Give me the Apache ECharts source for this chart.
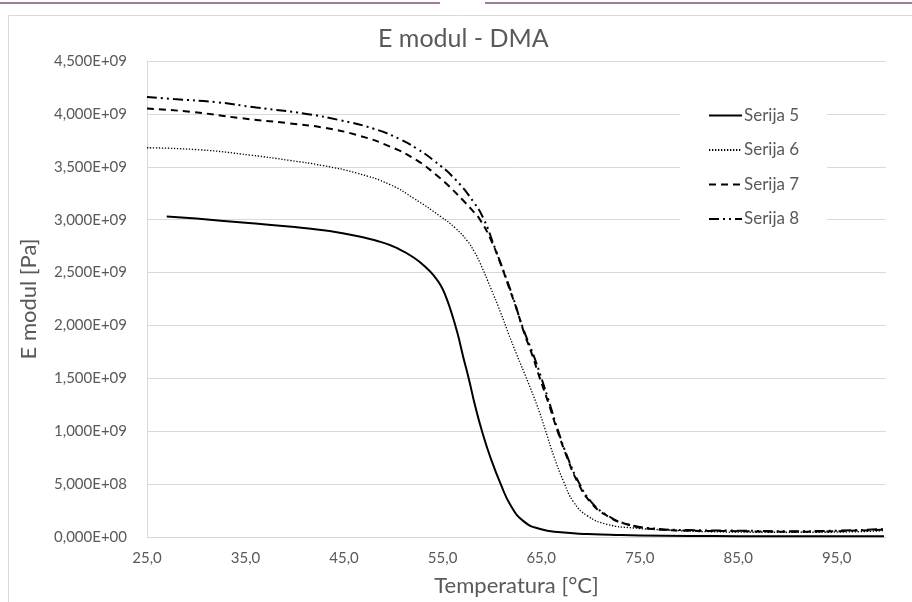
<!DOCTYPE html>
<html>
<head>
<meta charset="utf-8">
<title>E modul - DMA</title>
<script src="https://cdn.jsdelivr.net/npm/echarts@6/dist/echarts.min.js"></script>
<style>
  html, body { margin: 0; padding: 0; background: #ffffff; }
  #chart { width: 912px; height: 602px; }
</style>
</head>
<body>
<div id="chart"></div>
<script>
// Storage modulus E [Pa] versus temperature [°C] for four sample series
const seriesNames = ['Serija 5', 'Serija 6', 'Serija 7', 'Serija 8'];

const temp5 = [27.0, 30.0, 35.0, 40.0, 45.0, 48.7, 50.4, 52.1, 53.4, 54.2, 54.8, 55.3, 55.8, 56.5, 57.1, 57.7, 58.3, 59.0, 59.9, 60.9, 61.9, 63.2, 64.9, 67.0, 69.7, 72.0, 75.0, 80.0, 85.0, 90.0, 95.0, 99.8];
const mod5  = [3.03e9, 3.01e9, 2.97e9, 2.93e9, 2.87e9, 2.79e9, 2.73e9, 2.64e9, 2.54e9, 2.46e9, 2.38e9, 2.28e9, 2.15e9, 1.93e9, 1.70e9, 1.48e9, 1.24e9, 1.00e9, 7.4e8, 5.0e8, 3.0e8, 1.5e8, 7.5e7, 4.4e7, 2.8e7, 2.2e7, 1.5e7, 1.0e7, 8.0e6, 7.0e6, 6.0e6, 6.0e6];

const temp6 = [25.0, 30.4, 35.5, 39.5, 42.9, 46.3, 49.7, 52.1, 54.8, 56.3, 57.5, 58.2, 58.8, 59.9, 60.9, 61.7, 62.5, 63.6, 64.6, 65.4, 66.3, 67.3, 68.3, 69.7, 71.7, 74.4, 77.8, 82.0, 88.0, 94.0, 99.8];
const mod6  = [3.68e9, 3.66e9, 3.61e9, 3.56e9, 3.51e9, 3.44e9, 3.33e9, 3.20e9, 3.03e9, 2.92e9, 2.80e9, 2.70e9, 2.59e9, 2.35e9, 2.12e9, 1.92e9, 1.73e9, 1.48e9, 1.24e9, 1.02e9, 7.6e8, 5.2e8, 3.3e8, 2.0e8, 1.2e8, 8.5e7, 6.5e7, 5.0e7, 4.5e7, 4.5e7, 6.0e7];

const temp7 = [25.0, 29.4, 34.5, 39.5, 42.9, 46.3, 49.7, 52.4, 54.4, 55.5, 57.0, 58.0, 58.8, 59.9, 60.9, 61.7, 62.6, 63.2, 64.1, 64.8, 65.8, 66.6, 67.6, 68.7, 70.0, 71.7, 73.7, 76.4, 80.0, 85.0, 90.0, 95.0, 99.8];
const mod7  = [4.05e9, 4.02e9, 3.96e9, 3.91e9, 3.87e9, 3.80e9, 3.69e9, 3.56e9, 3.42e9, 3.33e9, 3.19e9, 3.09e9, 3.00e9, 2.81e9, 2.58e9, 2.37e9, 2.13e9, 1.95e9, 1.72e9, 1.52e9, 1.25e9, 1.02e9, 7.6e8, 5.2e8, 3.3e8, 2.0e8, 1.2e8, 7.5e7, 6.0e7, 5.5e7, 5.0e7, 5.5e7, 7.0e7];

const temp8 = [25.0, 27.7, 32.1, 36.1, 41.2, 44.6, 48.0, 50.7, 52.4, 54.1, 56.3, 58.2, 59.2, 60.2, 61.2, 62.2, 63.1, 64.3, 65.0, 65.9, 66.7, 67.7, 68.8, 70.1, 71.8, 73.8, 76.5, 80.0, 85.0, 90.0, 95.0, 99.8];
const mod8  = [4.16e9, 4.14e9, 4.11e9, 4.06e9, 4.00e9, 3.94e9, 3.86e9, 3.76e9, 3.67e9, 3.56e9, 3.38e9, 3.16e9, 3.00e9, 2.76e9, 2.51e9, 2.25e9, 1.99e9, 1.70e9, 1.51e9, 1.25e9, 1.01e9, 7.5e8, 5.2e8, 3.3e8, 2.0e8, 1.2e8, 8.0e7, 6.5e7, 6.0e7, 5.5e7, 6.0e7, 7.5e7];

// Axis ranges and steps
const xMin = 25, xMax = 100, xStep = 10;
const yMin = 0, yMax = 4.5e9, yStep = 5e8;

const FONT = 'Lato, "Open Sans", "DejaVu Sans", sans-serif';
const TEXT = '#595959';
const GRID = '#d9d9d9';

function pairs(xs, ys) { return xs.map((x, i) => [x, ys[i]]); }

// 4,500E+09 style labels (decimal comma, three mantissa digits)
function sciLabel(v) {
  let exp = 0;
  if (v !== 0) exp = Math.floor(Math.log10(Math.abs(v)) + 1e-9);
  const mant = v / Math.pow(10, exp);
  const e = String(Math.abs(exp)).padStart(2, '0');
  return mant.toFixed(3).replace('.', ',') + 'E' + (exp < 0 ? '-' : '+') + e;
}

const lineStyles = [
  { color: '#000000', width: 2,   type: 'solid' },
  { color: '#000000', width: 1.3, type: [1.3, 1.7] },
  { color: '#000000', width: 2,   type: [7, 5] },
  { color: '#000000', width: 2,   type: [10, 4, 2, 4, 2, 4] }
];
const datasets = [pairs(temp5, mod5), pairs(temp6, mod6), pairs(temp7, mod7), pairs(temp8, mod8)];

const chart = echarts.init(document.getElementById('chart'), null, { renderer: 'canvas' });

chart.setOption({
  backgroundColor: '#ffffff',
  animation: false,
  textStyle: { fontFamily: FONT },
  graphic: [
    { type: 'line', shape: { x1: 0, y1: 3, x2: 440, y2: 3 }, style: { stroke: '#7b4f7f', lineWidth: 1.5 }, silent: true },
    { type: 'line', shape: { x1: 485, y1: 3, x2: 912, y2: 3 }, style: { stroke: '#7b4f7f', lineWidth: 1.5 }, silent: true },
    { type: 'rect', shape: { x: 8.5, y: 15.5, width: 1000, height: 1000 }, style: { fill: null, stroke: GRID, lineWidth: 1 }, silent: true, z: -1 }
  ],
  title: {
    text: 'E modul - DMA',
    left: 378,
    top: 26,
    padding: 0,
    textStyle: { fontFamily: FONT, fontSize: 25, fontWeight: 'normal', color: TEXT }
  },
  legend: {
    data: seriesNames,
    orient: 'vertical',
    left: 680,
    top: 98,
    padding: [9, 28, 9, 28],
    itemWidth: 33,
    itemHeight: 14,
    itemGap: 17.5,
    backgroundColor: '#ffffff',
    itemStyle: { opacity: 0 },
    textStyle: { fontFamily: FONT, fontSize: 17, color: TEXT, padding: [0, 0, 0, -3] }
  },
  grid: { left: 147, right: 26, top: 61, bottom: 64, containLabel: false },
  xAxis: {
    type: 'value',
    min: xMin,
    max: xMax,
    interval: xStep,
    name: 'Temperatura [°C]',
    nameLocation: 'middle',
    nameGap: 38,
    nameTextStyle: { fontFamily: FONT, fontSize: 22, color: TEXT },
    axisLine: { show: true, lineStyle: { color: GRID, width: 1 } },
    axisTick: { show: false },
    splitLine: { show: false },
    axisLabel: {
      margin: 14,
      fontFamily: FONT,
      fontSize: 15,
      color: TEXT,
      showMaxLabel: false,
      formatter: v => (v > 95.5 ? '' : v.toFixed(1).replace('.', ','))
    }
  },
  yAxis: {
    type: 'value',
    min: yMin,
    max: yMax,
    interval: yStep,
    name: 'E modul [Pa]',
    nameLocation: 'middle',
    nameGap: 107,
    nameRotate: 90,
    nameTextStyle: { fontFamily: FONT, fontSize: 22, color: TEXT },
    axisLine: { show: true, lineStyle: { color: GRID, width: 1 } },
    axisTick: { show: false },
    splitLine: { show: true, lineStyle: { color: GRID, width: 1 } },
    axisLabel: {
      margin: 20,
      fontFamily: FONT,
      fontSize: 15,
      color: TEXT,
      formatter: sciLabel
    }
  },
  series: seriesNames.map((name, i) => ({
    name: name,
    type: 'line',
    data: datasets[i],
    showSymbol: false,
    symbol: 'none',
    smooth: 0.5,
    lineStyle: lineStyles[i],
    itemStyle: { color: '#000000' },
    z: 3
  }))
});
</script>
</body>
</html>
